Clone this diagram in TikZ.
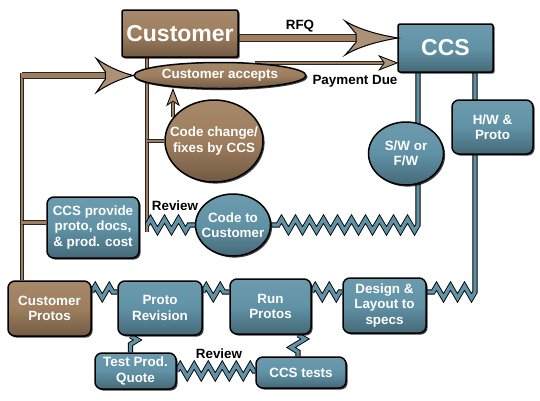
\documentclass[tikz,border=0pt]{standalone}
\usepackage{fontspec}
\setmainfont{Liberation Sans}
\usetikzlibrary{shapes.geometric,decorations.pathmorphing,shadows,calc}
\definecolor{tealc}{RGB}{96,146,166}
\definecolor{brownc}{RGB}{158,126,94}
\pgfdeclarelayer{bg}
\pgfsetlayers{bg,main}
\tikzset{
  sm/.style={font=\fontsize{13.4}{15.5}\selectfont\bfseries},
  shp/.style={draw=black, line width=1.5pt, inner sep=0pt, align=center, text=white, sm,
     drop shadow={shadow xshift=1.6pt, shadow yshift=-1.6pt, fill=black, opacity=0.75}},
  tealfill/.style={top color=tealc!92!white, bottom color=tealc!72!black, middle color=tealc},
  brownfill/.style={top color=brownc!92!white, bottom color=brownc!72!black, middle color=brownc},
  tbox/.style={shp, tealfill, rounded corners=7pt, rectangle},
  bbox/.style={shp, brownfill, rounded corners=7pt, rectangle},
  tell/.style={shp, tealfill, ellipse},
  bell/.style={shp, brownfill, ellipse},
  wtxt/.style={sm, text=white, align=center, inner sep=0pt},
  lbl/.style={sm, text=black, inner sep=0pt},
  bline/.style={draw=black!85, line width=0.9pt, double=brownc, double distance=2.6pt},
  tline/.style={draw=black, line width=0.9pt, double=tealc, double distance=3.4pt},
  tzz/.style={tline, decoration={zigzag, segment length=14pt, amplitude=6pt}},
  tzs/.style={tline, decoration={zigzag, segment length=17pt, amplitude=7pt}},
  ahead/.style={draw=black, line width=1pt, fill=brownc!85!white, line join=miter},
  bigfont/.style={font=\fontsize{23}{26}\selectfont\bfseries},
}
\begin{document}
\begin{tikzpicture}[x=1pt,y=-1pt]
\begin{pgfonlayer}{bg}
\fill[white] (0,0) rectangle (540,400);
\end{pgfonlayer}
\useasboundingbox (0,0) rectangle (540,400);

% nodes
\node[bbox, rounded corners=2pt, minimum width=116pt, minimum height=47pt, bigfont] (cust) at (180,33.5) {Customer};
\node[tbox, rounded corners=2pt, minimum width=95pt, minimum height=48pt, bigfont] (ccs) at (445.5,48) {CCS};
\node[bell, minimum width=172pt, minimum height=26pt] (acc) at (220,75.5) {};
\node[wtxt] (acct) at (acc) {Customer accepts};
\node[bell, minimum width=98pt, minimum height=82pt] (ccf) at (214,141) {};
\node[wtxt] (ccft) at (ccf) {Code change/\\fixes by CCS};
\node[tell, minimum width=75pt, minimum height=62pt] (ctc) at (233,225) {};
\node[wtxt] (ctct) at (ctc) {Code to\\Customer};
\node[tell, minimum width=75pt, minimum height=63pt] (sw) at (406,153.5) {};
\node[wtxt] (swt) at (sw) {S/W or\\F/W};
\node[tbox, minimum width=81pt, minimum height=54pt] (hw) at (492.5,127) {H/W \&\\Proto};
\node[tbox, minimum width=92pt, minimum height=61pt] (cpv) at (93,227.5) {CCS provide\\proto, docs,\\\& prod. cost};
\node[bbox, minimum width=83pt, minimum height=55pt] (cp) at (49.5,308.5) {Customer\\Protos};
\node[tbox, minimum width=84pt, minimum height=54pt] (pr) at (160,308) {Proto\\Revision};
\node[tbox, minimum width=81pt, minimum height=55pt] (rp) at (270.5,306.5) {Run\\Protos};
\node[tbox, minimum width=83pt, minimum height=55pt] (dl) at (384.5,305.5) {Design \&\\Layout to\\specs};
\node[tbox, minimum width=81pt, minimum height=36pt] (tpq) at (135.5,371) {Test Prod.\\Quote};
\node[tbox, minimum width=90pt, minimum height=31pt] (ct) at (301,372.5) {CCS tests};

% labels
\node[lbl] (rfq) at (300,26) {RFQ};
\node[lbl] (pdue) at (355,81) {Payment Due};
\node[lbl] (rev1) at (175,206) {Review};
\node[lbl] (rev2) at (219,354) {Review};

% coordinates
\coordinate (lc) at (22,75.5);
\coordinate (rv) at (147,225);
\coordinate (sv) at (418,225);
\coordinate (hv) at (475,292);
\coordinate (r) at (398,38);
\coordinate (pd) at (acc.20 -| ccs.west);
\coordinate (up) at (ccf.150 |- acc.south);
\coordinate (tq) at ([xshift=-5pt]tpq.north);
\coordinate (rq) at ([xshift=-3pt]ct.north);

% connectors
\begin{pgfonlayer}{bg}
\draw[bline] (cp.north -| lc) -- ([yshift=3pt]lc);
\draw[bline, double distance=5pt] (lc) -- ([xshift=-27pt]acc.west);
\draw[bline] ([yshift=5pt]cpv.west -| lc) -- ([yshift=5pt]cpv.west);
\draw[bline] (cust.south -| rv) -- ([yshift=-7pt]rv);
\draw[bline] (ccf.west -| rv) -- (ccf.west);
\draw[tzz] (rv) decorate {-- (ctc.west)};
\draw[bline] (ccf.150) -- ([yshift=-11pt]up);
\draw[bline, double distance=6pt, line width=1.1pt] (cust.east |- r) -- ([xshift=-40pt]r);
\draw[bline] (acc.20) -- ([xshift=-12pt]pd);
\draw[tzz] (sv |- ccs.south) -- (sv) decorate {-- (ctc.east)};
\draw[tzz] (hv |- ccs.south) -- (hv) decorate {-- (dl.east |- hv)};
\draw[tzz] (cp.east |- hv) decorate {-- (pr.west |- hv)};
\draw[tzz] (pr.east |- hv) decorate {-- (rp.west |- hv)};
\draw[tzz] (rp.east |- hv) decorate {-- (dl.west |- hv)};
\draw[tzs] (tq |- pr.south) decorate {-- (tq)};
\draw[tzs] (rq |- rp.south) decorate {-- (rq)};
\draw[tzz] (tpq.east) decorate {-- (ct.west |- tpq.east)};
\end{pgfonlayer}

% arrow heads
\filldraw[ahead, shift={(r)}] (0,0) .. controls (-18,-3) and (-38,-8) .. (-53,-17) .. controls (-46,-10) and (-44,-6) .. (-42,-4.5) -- (-42,4.5) .. controls (-44,6) and (-46,10) .. (-53,17) .. controls (-38,8) and (-18,3) .. cycle;
\filldraw[ahead, shift={(acc.west)}] (0,0) .. controls (-12,-3) and (-26,-9) .. (-37,-17) .. controls (-32,-10) and (-30,-6) .. (-28,-4) -- (-28,4) .. controls (-30,6) and (-32,10) .. (-37,17) .. controls (-26,9) and (-12,3) .. cycle;
\filldraw[ahead, line width=0.8pt, shift={(pd)}] (0,0) -- (-18,-7) -- (-13,0) -- (-18,7) -- cycle;
\filldraw[ahead, line width=0.8pt, shift={(up)}] (0,0) -- (-6,16) -- (0,12) -- (6,16) -- cycle;
\end{tikzpicture}
\end{document}
